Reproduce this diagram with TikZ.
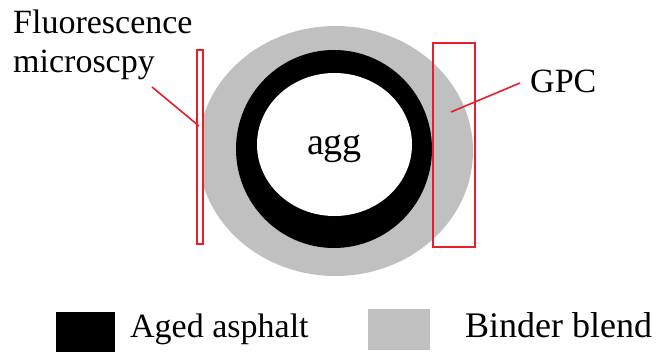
\documentclass[tikz,border=0pt]{standalone}
\usepackage{fontspec}
\setmainfont{Liberation Serif}
\usetikzlibrary{shapes.geometric}

\definecolor{blendgray}{RGB}{192,192,192}
\definecolor{probered}{RGB}{232,30,40}

\begin{document}
\begin{tikzpicture}[
  x=1pt, y=-1pt,
  font=\fontsize{34}{39}\selectfont,
  blend/.style={ellipse, fill=blendgray, inner sep=0pt},
  aged/.style={ellipse, fill=black, inner sep=0pt},
  core/.style={ellipse, fill=white, inner sep=0pt},
  probe/.style={draw=probered, line width=1.6pt, inner sep=0pt},
  lead/.style={draw=probered, line width=1.6pt},
  lbl/.style={inner sep=0pt, align=left},
  key/.style={inner sep=0pt}
]
\useasboundingbox (0,0) rectangle (661,351);

%% ---------- particle: binder blend, aged asphalt, aggregate ----------
\node[blend, minimum width=275pt, minimum height=250pt] (blend) at (335.5,151) {};
\node[aged, minimum width=196pt, minimum height=198pt] (aged) at (334,149) {};
\node[core, minimum width=155pt, minimum height=143pt] (agg) at (334.5,144.5) {};
\node[lbl, anchor=base, font=\fontsize{38}{40}\selectfont] (agglabel) at (334.5,154) {agg};

%% ---------- measuring windows ----------
\node[probe, fill=white, minimum width=6pt, minimum height=194pt] (fm) at (200,147) {};
\node[probe, minimum width=42pt, minimum height=204pt] (gpc) at (454,145) {};

%% ---------- labels ----------
\node[lbl, anchor=north west] (fmlabel) at (13,10) {Fluorescence\\microscpy};
\node[lbl, anchor=base west] (gpclabel) at (530,92) {GPC};

\coordinate (fmtail) at (152,87);
\coordinate (fmtip) at (199,126);
\coordinate (gpctail) at (520,83);
\coordinate (gpctip) at (451,112);
\draw[lead] (fmtail) -- (fmtip);
\draw[lead] (gpctail) -- (gpctip);

%% ---------- legend ----------
\node[key, fill=black, minimum width=59pt, minimum height=40pt] (agedkey) at (85.5,332) {};
\node[lbl, anchor=base west] (agedtext) at (130,337) {Aged asphalt};
\node[key, fill=blendgray, minimum width=62pt, minimum height=41pt] (blendkey) at (399,329.5) {};
\node[lbl, anchor=base west, font=\fontsize{36}{40}\selectfont] (blendtext) at (465,337.5) {Binder blend};
\end{tikzpicture}
\end{document}
